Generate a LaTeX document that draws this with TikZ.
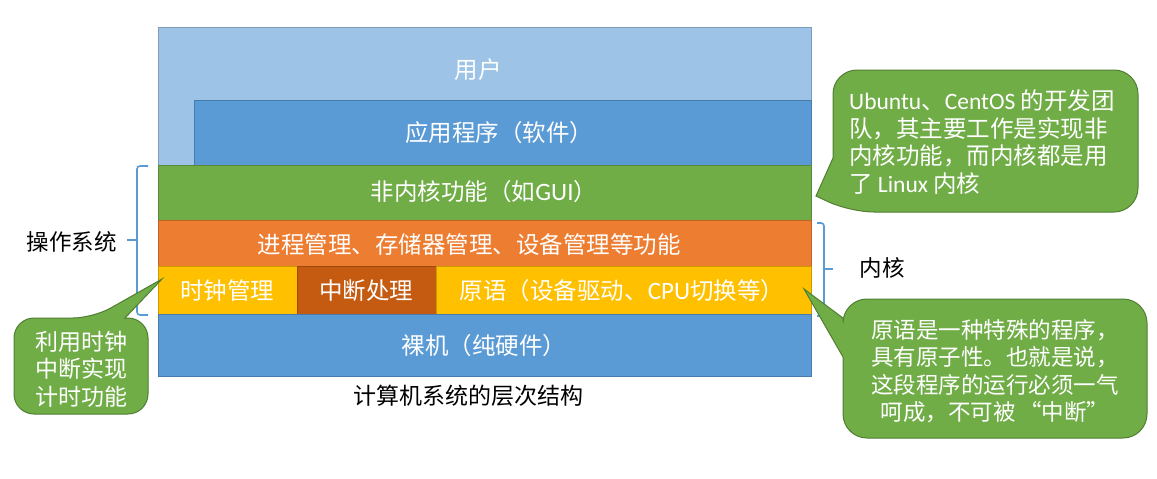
\documentclass[tikz,border=0pt]{standalone}
\usepackage{fontspec}
\setmainfont{Noto Sans CJK SC}
\newfontfamily\lat{Carlito}
\definecolor{cUser}{HTML}{9DC3E6}
\definecolor{cBlue}{HTML}{5B9BD5}
\definecolor{cGreen}{HTML}{70AD47}
\definecolor{cOrange}{HTML}{ED7D31}
\definecolor{cYellow}{HTML}{FFC000}
\definecolor{cDark}{HTML}{C55A11}
\definecolor{cBorder}{HTML}{507E32}
\begin{document}
\begin{tikzpicture}[x=1pt,y=-1pt,
  box/.style={draw=#1!80!black, fill=#1, line width=0.8pt, inner sep=0pt, anchor=north west},
  txt/.style={text=white, inner sep=0pt, font=\fontsize{23.5}{27}\selectfont},
  dtxt/.style={text=black, inner sep=0pt, font=\fontsize{22.5}{26}\selectfont},
  callout/.style={draw=cBorder, fill=cGreen, line width=1pt},
  ctxt/.style={text=white, inner sep=0pt, font=\fontsize{22.5}{27.5}\selectfont},
  bracestyle/.style={draw=cBlue, line width=1.6pt, rounded corners=3pt}]
\useasboundingbox (0,0) rectangle (1157,479);
% layers
\node[box=cUser, minimum width=653pt, minimum height=138pt] (user) at (158,27) {};
\node[box=cBlue, minimum width=617pt, minimum height=65pt] (app) at (194,100) {};
\node[box=cGreen, minimum width=653pt, minimum height=55pt] (nonk) at (158,165) {};
\node[box=cOrange, minimum width=653pt, minimum height=46pt] (proc) at (158,220) {};
\node[box=cYellow, minimum width=139pt, minimum height=48pt] (clock) at (158,266) {};
\node[box=cDark, minimum width=139pt, minimum height=48pt] (intr) at (297,266) {};
\node[box=cYellow, minimum width=375pt, minimum height=48pt] (prim) at (436,266) {};
\node[box=cBlue, minimum width=653pt, minimum height=62pt] (bare) at (158,314) {};
% layer texts
\node[txt] (tuser) at (478,70) {用户};
\node[txt] (tapp) at (499,133) {应用程序（软件）};
\node[txt] (tnonk) at (484,192) {非内核功能（如{\lat\fontsize{25}{27}\selectfont GUI}）};
\node[txt] (tproc) at (469,245) {进程管理、存储器管理、设备管理等功能};
\node[txt] (tclock) at (227,291) {时钟管理};
\node[txt] (tintr) at (366,291) {中断处理};
\node[txt] (tprim) at (622,291) {原语（设备驱动、{\lat\fontsize{25}{27}\selectfont CPU}切换等）};
\node[txt] (tbare) at (484,346) {裸机（纯硬件）};
\node[dtxt, font=\fontsize{23}{26}\selectfont] (caption) at (468,396) {计算机系统的层次结构};
% braces
\draw[bracestyle] (148,166) -- (137,166) -- (137,315) -- (148,315);
\draw[bracestyle] (137,240) -- (127,240);
\node[dtxt] (os) at (72,242) {操作系统};
\draw[bracestyle] (817,223) -- (824,223) -- (824,316) -- (817,316);
\draw[bracestyle] (824,269) -- (833,269);
\node[dtxt] (kernel) at (882,268) {内核};
% callout 1
\draw[callout] (816,196) -- (833,158) [rounded corners=24pt] -- (833,70) -- (1138,70) -- (1138,212) -- (850,212) [sharp corners] -- cycle;
\node[ctxt, anchor=west, align=left, font=\fontsize{23.5}{27.5}\selectfont] (c1) at (849,142)
  {{\lat Ubuntu}、{\lat CentOS} 的开发团\\队，其主要工作是实现非\\内核功能，而内核都是用\\了 {\lat Linux} 内核};
% callout 2
\draw[callout] (804,289) -- (843,318) [rounded corners=24pt] -- (843,299) -- (1147,299) -- (1147,438) -- (843,438) [sharp corners] -- (843,357) -- cycle;
\node[ctxt, align=center] (c2) at (995,371)
  {原语是一种特殊的程序，\\具有原子性。也就是说，\\这段程序的运行必须一气\\呵成，不可被\,“中断”};
% callout 3
\draw[callout] (162,279) -- (125,318) [rounded corners=20pt] -- (148,318) -- (148,414) -- (14,414) -- (14,318) -- (93,318) [sharp corners] -- cycle;
\node[ctxt, align=center, font=\fontsize{23}{27.5}\selectfont] (c3) at (81,369) {利用时钟\\中断实现\\计时功能};
\end{tikzpicture}
\end{document}
